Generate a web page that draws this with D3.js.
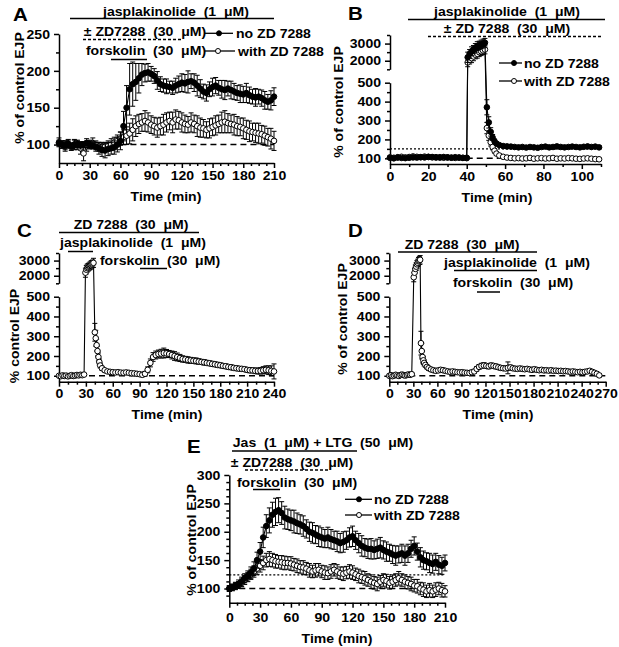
<!DOCTYPE html>
<html><head><meta charset="utf-8">
<script src="https://cdn.jsdelivr.net/npm/d3@7"></script>
<style>
body{margin:0;background:#fff}
svg{display:block}
text{font-family:"Liberation Sans",Arial,sans-serif;font-weight:bold;font-size:13px;fill:#000;white-space:pre}
.ax .domain,.ax .tick line{stroke:#000;stroke-width:1.5px}
</style>
</head><body><svg id="c" width="619" height="647"></svg>
<script>
// ---------------- DATA ----------------
// Panels A and E: time points (min)
const minutes3 = [0,3,6,9,12,15,18,21,24,27,30,33,36,39,42,45,48,51,54,57,60,63,66,69,72,75,78,81,84,87,90,93,96,99,102,105,108,111,114,117,120,123,126,129,132,135,138,141,144,147,150,153,156,159,162,165,168,171,174,177,180,183,186,189,192,195,198,201,204,207,210];

// Panel A
const aNoZD = [102,100,99,101,98,100,101,99,100,102,100,99,97,
  95,93,92,94,95,96,100,105,
  125,150,175,182,185,190,195,197,198,196,
  193,187,182,180,179,178,177,180,182,184,
  183,185,186,184,180,176,172,170,175,178,
  180,177,175,174,176,174,172,170,169,168,
  170,167,165,164,165,163,160,158,160,165];
const aNoZDErr = [4,5,6,5,4,6,5,5,4,6,5,5,6,
  8,9,10,9,8,9,10,12,
  20,30,35,30,25,20,15,12,12,10,
  10,12,10,9,10,8,9,10,11,12,
  12,15,10,12,14,12,10,11,10,12,
  11,10,12,13,10,12,11,10,12,11,
  13,11,10,12,10,11,12,10,13,12];
const aZD = [103,100,98,101,97,100,99,95,88,98,100,102,99,
  97,96,97,98,100,103,105,108,
  110,112,115,120,125,128,130,132,130,127,
  125,123,125,127,130,132,130,134,133,130,
  128,127,130,128,125,123,122,120,122,124,
  126,128,130,131,129,128,127,125,124,122,
  120,118,117,116,115,114,112,110,108,105];
const aZDErr = [6,5,7,6,5,7,6,8,10,7,6,7,6,
  6,7,6,7,8,7,8,9,
  10,12,14,15,14,13,12,14,13,12,
  12,13,12,14,13,12,14,13,12,13,
  12,11,13,12,14,13,12,11,13,12,
  13,12,14,15,13,12,14,13,12,14,
  13,14,12,13,14,12,13,12,14,13];

// Panel B
const bTime = [0,2,4,6,8,10,12,14,16,18,20,22,24,26,28,30,32,34,36,38,40,
  40.5,41.5,42.5,43.5,44.5,45.5,46.5,47.5,48.5,49.5,
  50.5,51.5,52.5,53.5,54.5,55.5,
  57,59,61,63,65,67,69,71,73,75,77,79,81,83,85,87,89,91,93,95,97,99,101,103,105,107,109];
const bNoZD = [103,100,104,102,101,103,105,104,106,105,108,107,106,104,107,105,103,106,104,102,103,
  2200,2400,2550,2650,2750,2850,2900,2950,3000,3050,
  370,290,240,210,190,178,
  170,165,163,162,160,158,160,157,160,158,156,160,162,158,160,163,160,158,160,162,160,158,161,163,160,162,158];
const bNoZDErr = [5,4,6,5,5,4,6,5,5,6,5,4,6,5,5,4,6,5,5,4,6,
  300,250,260,240,250,260,240,250,260,250,
  40,30,22,16,12,10,
  8,7,8,7,8,7,8,7,8,7,8,7,8,7,8,7,8,7,8,7,8,7,8,7,8,7,8];
const bZD = [105,103,106,108,105,107,110,108,106,109,107,105,104,106,103,105,104,102,104,103,101,
  1900,2050,2150,2250,2350,2400,2500,2550,2600,2650,
  260,220,185,160,140,125,
  115,108,104,102,100,101,99,100,102,98,100,101,99,100,102,98,100,99,101,100,98,97,99,100,98,96,95];
const bZDErr = [6,5,6,7,5,6,7,6,5,6,7,5,6,6,5,6,5,6,5,6,5,
  250,240,260,250,240,250,260,250,240,250,
  30,25,20,15,12,10,
  7,6,6,5,6,5,6,5,6,5,6,5,6,5,6,5,6,5,6,5,6,5,6,5,6,5,6];

// Panel C
const cTime = [0,2,4,6,8,10,12,14,16,18,20,22,24,26,28,
  29.5,30.5,31.5,32.5,33.5,34.5,35.5,36.5,37.5,38.5,
  40,41,42,43,44,45,46,48,
  51,54,57,60,63,66,69,72,75,78,81,84,87,90,93,96,99,102,105,108,111,114,117,120,123,126,129,132,135,138,
  141,144,147,150,153,156,159,162,165,168,171,174,177,180,183,186,189,192,195,198,201,204,207,210,213,216,219,222,225,228,231,234,237,240];
const cZD = [100,98,102,99,101,97,100,103,99,101,104,102,105,103,106,
  2200,2400,2500,2550,2600,2650,2700,2750,2800,2850,
  320,290,255,225,195,170,152,138,
  128,122,120,118,117,118,116,115,117,115,
  113,112,110,108,105,110,130,165,195,205,
  210,212,215,213,210,205,200,195,190,185,
  183,180,178,176,175,172,170,168,165,163,
  160,158,155,153,150,148,145,143,140,138,
  136,135,133,130,128,127,125,124,125,128,
  130,128,125,122];
const cZDErr = [6,7,5,6,8,6,7,5,6,7,6,5,7,6,5,
  300,280,260,250,240,250,260,250,240,300,
  45,40,30,25,20,15,12,10,
  8,7,8,7,8,7,8,7,8,7,
  7,8,7,8,10,12,15,20,22,20,
  20,22,25,20,18,20,22,20,18,16,
  15,16,15,14,15,14,13,14,13,12,
  13,12,13,12,11,12,11,12,11,12,
  11,12,11,12,13,12,14,15,16,18,
  20,22,25,38];

// Panel D
const dTime = [0,2,4,6,8,10,12,14,16,18,20,22,24,26,28,
  30.5,31.5,32.5,33.5,34.5,35.5,36.5,37.5,38.5,
  39.5,40.5,41.5,42.5,43.5,45,47,49,
  52,55,58,61,64,67,70,73,76,79,82,85,88,91,94,97,100,103,106,109,112,115,118,121,124,127,130,133,136,139,
  142,145,148,151,154,157,160,163,166,169,172,175,178,181,184,187,190,193,196,199,202,205,208,211,214,217,220,223,226,229,
  232,235,238,241,244,247,250,253,256,259,262];
const dZD = [100,103,98,101,105,102,99,104,106,103,101,104,107,105,108,
  1900,2200,2450,2600,2750,2850,2950,3000,3050,
  265,225,195,178,165,155,145,138,
  132,128,125,127,130,128,125,122,120,122,
  120,118,117,118,116,115,114,118,122,135,
  145,150,152,150,148,152,150,147,143,140,
  138,137,140,142,138,136,135,137,135,133,
  135,132,130,133,130,128,130,127,128,126,
  128,125,126,124,125,123,124,122,120,122,
  120,118,120,118,120,122,125,120,115,110,102];
const dZDErr = [6,5,7,6,5,7,6,5,6,7,6,5,6,7,6,
  300,280,260,250,250,240,250,260,280,
  60,40,30,20,15,12,10,10,
  8,9,8,10,12,10,9,8,9,8,
  8,9,8,7,8,9,8,9,10,12,
  12,13,14,12,13,12,11,12,11,10,
  10,11,30,12,10,9,10,9,10,9,
  9,10,9,10,9,8,9,8,9,8,
  8,9,8,9,8,9,8,9,8,9,
  8,9,8,9,8,9,10,9,8,9,8];

// Panel E
const eNoZD = [100,102,105,108,112,118,122,128,135,150,
  165,190,210,220,230,235,238,233,225,222,
  220,218,215,213,210,205,200,198,195,192,
  190,188,190,187,185,183,180,182,185,190,
  192,185,180,175,172,170,170,168,170,172,
  168,165,163,160,158,160,162,158,162,170,
  175,165,155,150,148,145,143,147,142,140,
  145];
const eNoZDErr = [5,6,6,7,8,8,9,10,12,14,
  16,18,20,22,22,24,22,20,20,18,
  18,20,18,17,18,16,17,18,16,18,
  17,16,18,17,16,18,17,18,16,17,
  18,16,17,18,16,17,18,16,17,18,
  16,17,15,16,17,15,16,17,16,15,
  16,15,17,16,15,17,16,15,16,15,
  14];
const eZD = [100,102,104,106,110,115,120,125,130,135,
  140,145,150,152,150,148,147,146,145,145,
  144,142,140,138,137,135,132,130,132,133,
  130,128,127,130,133,130,127,126,128,130,
  128,125,122,120,118,115,112,110,108,112,
  115,113,110,112,115,118,115,112,110,108,
  105,104,100,98,95,97,95,98,100,97,
  95];
const eZDErr = [5,5,6,6,7,8,8,9,10,10,
  11,12,12,13,12,12,11,12,12,11,
  12,11,12,11,12,11,12,11,12,11,
  11,12,11,12,11,12,11,12,11,12,
  12,11,12,11,12,11,12,11,12,11,
  11,12,11,12,11,12,11,12,11,12,
  11,12,11,12,11,12,11,12,11,12,
  10];

// Tick values
const aXTicks = [0,30,60,90,120,150,180,210];
const aXMinor = [7.5,15,22.5,37.5,45,52.5,67.5,75,82.5,97.5,105,112.5,127.5,135,142.5,157.5,165,172.5,187.5,195,202.5];
const aYTicks = [100,150,200,250];
const aYMinor = [125,175,225];
const bXTicks = [0,20,40,60,80,100];
const bXMinor = [10,30,50,70,90,110];
const lowYTicks = [100,200,300,400,500];
const lowYMinor = [150,250,350,450];
const upYTicks = [2000,3000];
const upYMinor = [1500,2500,3500];
const cXTicks = [0,30,60,90,120,150,180,210,240];
const cXMinor = [10,20,40,50,70,80,100,110,130,140,160,170,190,200,220,230];
const dXTicks = [0,30,60,90,120,150,180,210,240,270];
const dXMinor = [10,20,40,50,70,80,100,110,130,140,160,170,190,200,220,230,250,260];
const eYTicks = [100,150,200,250,300];
const eYMinor = [87.5,112.5,125,137.5,162.5,175,187.5,212.5,225,237.5,262.5,275,287.5];

// ---------------- DRAWING ----------------
const svg = d3.select('#c');
const SX = 1.08;
const R = 2.8;

function panel(p){
  const g = svg.append('g');
  const x = d3.scaleLinear().domain(p.xDomain).range(p.xRange);
  const yL = d3.scaleLinear().domain(p.yDomain).range(p.yRange);
  const yU = p.upDomain ? d3.scaleLinear().domain(p.upDomain).range(p.upRange) : null;
  const Y = v => (yU && v > 1000) ? yU(v) : yL(v);
  const axY = p.yRange[0], axX = p.xRange[0];

  g.append('g').attr('class','ax').attr('transform',`translate(0,${axY})`)
    .call(d3.axisBottom(x).tickValues(p.xTicks).tickSize(5).tickSizeOuter(0).tickPadding(p.xPad).tickFormat(d3.format('d')));
  g.append('g').attr('class','ax').attr('transform',`translate(0,${axY})`)
    .call(d3.axisBottom(x).tickValues(p.xMinor).tickSize(3).tickSizeOuter(0).tickFormat(''))
    .select('.domain').remove();
  g.append('g').attr('class','ax').attr('transform',`translate(${axX},0)`)
    .call(d3.axisLeft(yL).tickValues(p.yTicks).tickSize(5).tickSizeOuter(0).tickPadding(4).tickFormat(d3.format('d')));
  g.append('g').attr('class','ax').attr('transform',`translate(${axX},0)`)
    .call(d3.axisLeft(yL).tickValues(p.yMinor).tickSize(3).tickSizeOuter(0).tickFormat(''))
    .select('.domain').remove();
  if (yU){
    g.append('g').attr('class','ax').attr('transform',`translate(${axX},0)`)
      .call(d3.axisLeft(yU).tickValues(upYTicks).tickSize(5).tickSizeOuter(0).tickPadding(4).tickFormat(d3.format('d')));
    g.append('g').attr('class','ax').attr('transform',`translate(${axX},0)`)
      .call(d3.axisLeft(yU).tickValues(upYMinor).tickSize(3).tickSizeOuter(0).tickFormat(''))
      .select('.domain').remove();
  }
  // reference lines
  p.refs.forEach(r => {
    g.append('line').attr('x1',x(r.t0)).attr('x2',x(r.t1)).attr('y1',Y(r.v)).attr('y2',Y(r.v))
      .attr('stroke','#000').attr('stroke-width',r.w).attr('stroke-dasharray',r.dash);
  });
  // series
  p.series.forEach(s => {
    const pts = s.t.map((t,i) => ({t, v:s.v[i], e:s.e[i]}));
    const eb = g.append('g').attr('stroke','#000').attr('stroke-width',1);
    pts.forEach(d => {
      const xx = x(d.t), yt = Y(d.v + d.e), yb = Y(d.v - d.e);
      eb.append('line').attr('x1',xx).attr('x2',xx).attr('y1',yb).attr('y2',yt);
      eb.append('line').attr('x1',xx-2.5).attr('x2',xx+2.5).attr('y1',yt).attr('y2',yt);
      eb.append('line').attr('x1',xx-2.5).attr('x2',xx+2.5).attr('y1',yb).attr('y2',yb);
    });
    g.append('path').datum(pts)
      .attr('d', d3.line().x(d => x(d.t)).y(d => Y(d.v)))
      .attr('fill','none').attr('stroke','#000').attr('stroke-width',1.1);
    g.append('g').selectAll('circle').data(pts).join('circle')
      .attr('cx', d => x(d.t)).attr('cy', d => Y(d.v)).attr('r', R)
      .attr('fill', s.filled ? '#000' : '#fff').attr('stroke','#000').attr('stroke-width',1);
  });
  // titles
  g.append('text').attr('transform',`translate(${p.yt[0]},${p.yt[1]}) rotate(-90)`)
    .attr('text-anchor','middle').text(p.yTitle);
  g.append('text').attr('x',p.xt[0]).attr('y',p.xt[1]).attr('text-anchor','middle').text('Time (min)');
  // annotations
  (p.texts||[]).forEach(a => {
    g.append('text').attr('x',a[0]).attr('y',a[1]).attr('text-anchor',a[3]||'middle')
      .style('font-size',(a[4]||13)+'px').text(a[2]);
  });
  (p.lines||[]).forEach(l => {
    g.append('line').attr('x1',l[0]).attr('x2',l[1]).attr('y1',l[2]).attr('y2',l[2])
      .attr('stroke','#000').attr('stroke-width',1.5).attr('stroke-dasharray',l[3]||null);
  });
  (p.legend||[]).forEach(l => {
    g.append('line').attr('x1',l.x1).attr('x2',l.x2).attr('y1',l.y).attr('y2',l.y).attr('stroke','#000').attr('stroke-width',1.3);
    g.append('circle').attr('cx',l.mx).attr('cy',l.y).attr('r',2.5).attr('fill',l.filled?'#000':'#fff').attr('stroke','#000');
    g.append('text').attr('x',l.tx).attr('y',l.y+4.6).text(l.label);
  });
}

// Panel A
panel({
  xDomain:[0,210], xRange:[59,274], yDomain:[75,250], yRange:[163,34], xPad:3,
  xTicks:aXTicks, xMinor:aXMinor, yTicks:aYTicks, yMinor:aYMinor,
  refs:[{v:100,t0:60,t1:210,w:1.5,dash:'6,4'}],
  series:[{t:minutes3,v:aZD,e:aZDErr,filled:false},{t:minutes3,v:aNoZD,e:aNoZDErr,filled:true}],
  yTitle:'% of control EJP', yt:[24,88], xt:[166,200.5],
  texts:[[13,21,'A','start',19],[176,15.5,'jasplakinolide  (1  μM)'],[145,36,'± ZD7288  (30  μM)'],[146,55,'forskolin  (30  μM)']],
  lines:[[70,274,18.5],[83,182,39.5,'3,2'],[111,147,59.5]],
  legend:[{x1:205,x2:233,mx:219,y:33.3,filled:true,tx:236,label:'no ZD 7288'},
          {x1:205,x2:235,mx:218,y:51,filled:false,tx:238,label:'with ZD 7288'}]
});

// Panel B
panel({
  xDomain:[0,110], xRange:[390,601], yDomain:[70,500], yRange:[164,82.7], xPad:3,
  upDomain:[1500,3500], upRange:[69.3,35],
  xTicks:bXTicks, xMinor:bXMinor, yTicks:lowYTicks, yMinor:lowYMinor,
  refs:[{v:150,t0:0,t1:110,w:1.1,dash:'2,2'},{v:100,t0:40,t1:110,w:1.5,dash:'6,4'}],
  series:[{t:bTime,v:bZD,e:bZDErr,filled:false},{t:bTime,v:bNoZD,e:bNoZDErr,filled:true}],
  yTitle:'% of control EJP', yt:[342.5,102], xt:[497,201.5],
  texts:[[348,20,'B','start',19],[507,16,'jasplakinolide  (1  μM)'],[507,33,'± ZD 7288  (30  μM)']],
  lines:[[408,605,19.5],[428,602,36.5,'3,2']],
  legend:[{x1:499,x2:522,mx:514,y:63,filled:true,tx:524,label:'no ZD 7288'},
          {x1:499,x2:522,mx:514,y:81,filled:false,tx:524,label:'with ZD 7288'}]
});

// Panel C
panel({
  xDomain:[0,240], xRange:[59,274], yDomain:[70,500], yRange:[381.7,296.7], xPad:2,
  upDomain:[1500,3500], upRange:[283.3,253],
  xTicks:cXTicks, xMinor:cXMinor, yTicks:lowYTicks, yMinor:lowYMinor,
  refs:[{v:100,t0:0,t1:240,w:1.5,dash:'6,4'}],
  series:[{t:cTime,v:cZD,e:cZDErr,filled:false}],
  yTitle:'% control EJP', yt:[18.5,336], xt:[167,419],
  texts:[[17,237,'C','start',19],[131,229,'ZD 7288  (30  μM)'],[133,246.5,'jasplakinolide  (1  μM)'],[160,265,'forskolin  (30  μM)']],
  lines:[[59,199,232.5],[68,93,251.5],[140,167,268.5]]
});

// Panel D
panel({
  xDomain:[0,270], xRange:[389.3,605.7], yDomain:[70,500], yRange:[381.7,296.7], xPad:2,
  upDomain:[1500,3500], upRange:[283.3,253],
  xTicks:dXTicks, xMinor:dXMinor, yTicks:lowYTicks, yMinor:lowYMinor,
  refs:[{v:100,t0:0,t1:270,w:1.5,dash:'6,4'}],
  series:[{t:dTime,v:dZD,e:dZDErr,filled:false}],
  yTitle:'% of control EJP', yt:[346.5,319], xt:[498,419],
  texts:[[348,237,'D','start',19],[462,249,'ZD 7288  (30  μM)'],[517,266.5,'jasplakinolide  (1  μM)'],[513,286.5,'forskolin  (30  μM)']],
  lines:[[398,537,252],[454,537,270.5],[477,500,292]]
});

// Panel E
panel({
  xDomain:[0,210], xRange:[229.3,445], yDomain:[75,300], yRange:[602.7,475], xPad:5,
  xTicks:aXTicks, xMinor:aXMinor, yTicks:eYTicks, yMinor:eYMinor,
  refs:[{v:124,t0:0,t1:210,w:1.1,dash:'2,2'},{v:100,t0:0,t1:210,w:1.5,dash:'6,4'}],
  series:[{t:minutes3,v:eZD,e:eZDErr,filled:false},{t:minutes3,v:eNoZD,e:eNoZDErr,filled:true}],
  yTitle:'% of control EJP', yt:[195.5,540], xt:[337,642.5],
  texts:[[187,453,'E','start',19],[323,446.5,'Jas  (1  μM) + LTG  (50  μM)'],[292,466.5,'± ZD7288  (30  μM)'],[297,486.5,'forskolin  (30  μM)']],
  lines:[[232,357,451],[245,330,470,'3,2'],[253,280,489.5]],
  legend:[{x1:345,x2:372,mx:359,y:499.3,filled:true,tx:374,label:'no ZD 7288'},
          {x1:345,x2:372,mx:359,y:515,filled:false,tx:374,label:'with ZD 7288'}]
});

// horizontal stretch of text to match the reference's wide bold lettering
svg.selectAll('text').each(function(){
  const L = this.getComputedTextLength();
  if (L > 0){ this.setAttribute('textLength', L*SX); this.setAttribute('lengthAdjust','spacingAndGlyphs'); }
});
</script>
</body></html>
